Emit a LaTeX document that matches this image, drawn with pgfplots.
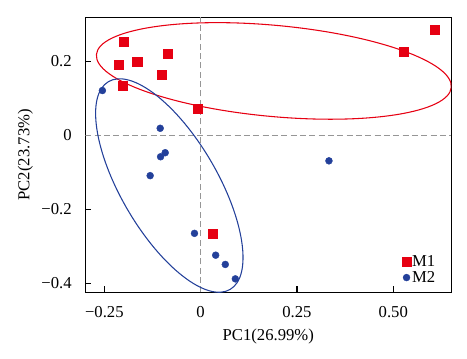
\documentclass[border=0pt]{standalone}
\usepackage{fontspec}
\setmainfont{Liberation Serif}
\usepackage{pgfplots}
\pgfplotsset{compat=1.18}
\definecolor{mred}{RGB}{230,0,18}
\definecolor{mblue}{RGB}{35,64,154}
\definecolor{dgray}{RGB}{150,150,150}
\begin{document}
\begin{tikzpicture}
\begin{axis}[
  scale only axis,
  width=274.5pt, height=206.25pt,
  xmin=-0.2993, xmax=0.6505,
  ymin=-0.4243, ymax=0.3189,
  font=\fontsize{12.5}{15}\selectfont,
  /pgf/number format/assume math mode=true,
  axis line style={line width=0.8pt},
  tick align=inside, xtick pos=bottom, ytick pos=left,
  major tick length=4.5pt,
  tick style={line width=0.8pt, black},
  xtick={-0.25,0,0.25,0.5},
  xticklabels={−0.25,0,0.25,0.50},
  ytick={-0.4,-0.2,0,0.2},
  yticklabels={−0.4,−0.2,0,0.2},
  tick label style={inner sep=0pt, outer sep=0pt},
  xticklabel shift=10.3pt,
  yticklabel shift=10.2pt,
  xlabel={PC1(26.99\%)},
  ylabel={PC2(23.73\%)},
  xlabel style={at={(axis description cs:0.5,-0.177)}, anchor=base, inner sep=0pt},
  ylabel style={at={(axis description cs:-0.153,0.5)}, anchor=base, inner sep=0pt, rotate=0},
  legend style={at={(axis description cs:0.96,0.025)}, anchor=south east, draw=none, fill=none,
    inner sep=0pt, row sep=0.5pt, font=\fontsize{12.5}{15}\selectfont,
    nodes={inner sep=0.8pt}},
  legend cell align=left,
  legend image code/.code={\draw[#1] plot coordinates {(0cm,0cm)};},
]
\addplot[dgray, dash pattern=on 4.5pt off 2.5pt, line width=0.6pt, forget plot] coordinates {(0,-0.4243) (0,0.3189)};
\addplot[dgray, dash pattern=on 4.5pt off 2.5pt, line width=0.6pt, forget plot] coordinates {(-0.2993,0) (0.6505,0)};
\draw[mred, line width=0.8pt, rotate around={-5.3:(axis cs:0.190,0.174)}] (axis cs:0.190,0.174) ellipse [x radius=0.4625, y radius=0.1232];
\draw[mblue, line width=0.8pt, rotate around={-59.65:(axis cs:-0.0813,-0.1357)}] (axis cs:-0.0813,-0.1357) ellipse [x radius=0.3125, y radius=0.1303];
\addplot[only marks, mark=square*, mark size=3.4pt, color=mred, mark options={draw=mred, fill=mred, line width=0.1pt}] coordinates {
(-0.199,0.253) (-0.213,0.191) (-0.165,0.200) (-0.087,0.220) (-0.102,0.164)
(-0.203,0.135) (-0.009,0.073) (0.526,0.226) (0.606,0.286) (0.030,-0.265)};
\addlegendentry{M1}
\addplot[only marks, mark=*, mark size=2.6pt, color=mblue, mark options={draw=mblue, fill=mblue, line width=0.3pt}] coordinates {
(-0.255,0.121) (-0.105,0.019) (-0.104,-0.058) (-0.092,-0.047) (-0.131,-0.109)
(-0.016,-0.265) (0.039,-0.324) (0.064,-0.349) (0.090,-0.388) (0.333,-0.069)};
\addlegendentry{M2}
\end{axis}
\path ([shift={(-64pt,-49.3pt)}]current axis.south west) rectangle ([shift={(11.8pt,13pt)}]current axis.north east);
\end{tikzpicture}
\end{document}
